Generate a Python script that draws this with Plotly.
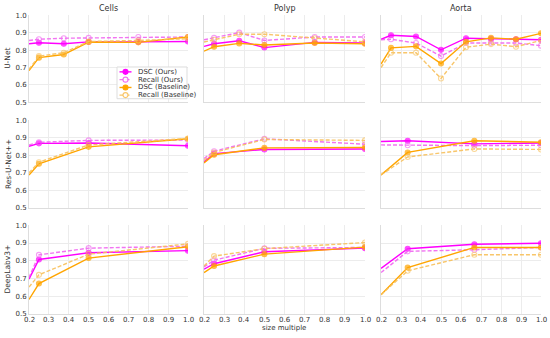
import plotly.graph_objects as go
from plotly.subplots import make_subplots

datasets = ["Cells", "Polyp", "Aorta"]
models = ["U-Net", "Res-U-Net++", "DeepLabv3+"]
series_names = ["DSC (Ours)", "Recall (Ours)", "DSC (Baseline)", "Recall (Baseline)"]
x_tick_values = [0.2, 0.3, 0.4, 0.5, 0.6, 0.7, 0.8, 0.9, 1.0]

# x values (size multiple) per panel
x_unet_cells = [0.2, 0.25, 0.375, 0.5, 0.75, 1.0]
x_unet_polyp = [0.2, 0.25, 0.375, 0.5, 0.75, 1.0]
x_unet_aorta = [0.2, 0.25, 0.375, 0.5, 0.625, 0.75, 0.875, 1.0]
x_res_cells = [0.2, 0.25, 0.5, 1.0]
x_res_polyp = [0.2, 0.25, 0.5, 1.0]
x_res_aorta = [0.2, 1/3, 2/3, 1.0]
x_dl_cells = [0.2, 0.25, 0.5, 1.0]
x_dl_polyp = [0.2, 0.25, 0.5, 1.0]
x_dl_aorta = [0.2, 1/3, 2/3, 1.0]

# U-Net
unet_cells_dsc_ours = [0.837, 0.843, 0.837, 0.848, 0.848, 0.850]
unet_cells_rec_ours = [0.856, 0.863, 0.869, 0.871, 0.876, 0.876]
unet_cells_dsc_base = [0.682, 0.757, 0.775, 0.847, 0.845, 0.876]
unet_cells_rec_base = [0.690, 0.766, 0.785, 0.850, 0.856, 0.866]

unet_polyp_dsc_ours = [0.822, 0.837, 0.854, 0.815, 0.845, 0.841]
unet_polyp_rec_ours = [0.860, 0.871, 0.901, 0.856, 0.876, 0.876]
unet_polyp_dsc_base = [0.794, 0.820, 0.839, 0.830, 0.841, 0.837]
unet_polyp_rec_base = [0.847, 0.860, 0.892, 0.892, 0.869, 0.848]

unet_aorta_dsc_ours = [0.863, 0.886, 0.879, 0.802, 0.869, 0.865, 0.863, 0.860]
unet_aorta_rec_ours = [0.860, 0.863, 0.841, 0.766, 0.841, 0.843, 0.841, 0.826]
unet_aorta_dsc_base = [0.720, 0.813, 0.822, 0.723, 0.848, 0.871, 0.863, 0.897]
unet_aorta_rec_base = [0.700, 0.785, 0.785, 0.637, 0.817, 0.835, 0.820, 0.856]

# Res-U-Net++
res_cells_dsc_ours = [0.852, 0.869, 0.871, 0.855]
res_cells_rec_ours = [0.860, 0.875, 0.886, 0.888]
res_cells_dsc_base = [0.688, 0.752, 0.849, 0.895]
res_cells_rec_base = [0.700, 0.761, 0.860, 0.897]

res_polyp_dsc_ours = [0.763, 0.810, 0.834, 0.837]
res_polyp_rec_ours = [0.782, 0.824, 0.895, 0.864]
res_polyp_dsc_base = [0.757, 0.804, 0.843, 0.845]
res_polyp_rec_base = [0.772, 0.817, 0.891, 0.886]

res_aorta_dsc_ours = [0.880, 0.884, 0.866, 0.871]
res_aorta_rec_ours = [0.860, 0.858, 0.856, 0.858]
res_aorta_dsc_base = [0.688, 0.817, 0.884, 0.875]
res_aorta_rec_base = [0.688, 0.791, 0.837, 0.834]

# DeepLabv3+
dl_cells_dsc_ours = [0.696, 0.807, 0.845, 0.857]
dl_cells_rec_ours = [0.705, 0.833, 0.871, 0.882]
dl_cells_dsc_base = [0.581, 0.671, 0.815, 0.879]
dl_cells_rec_base = [0.651, 0.720, 0.837, 0.895]

dl_polyp_dsc_ours = [0.752, 0.783, 0.851, 0.871]
dl_polyp_rec_ours = [0.765, 0.803, 0.870, 0.875]
dl_polyp_dsc_base = [0.733, 0.770, 0.837, 0.877]
dl_polyp_rec_base = [0.770, 0.826, 0.868, 0.903]

dl_aorta_dsc_ours = [0.757, 0.868, 0.893, 0.899]
dl_aorta_rec_ours = [0.733, 0.853, 0.862, 0.875]
dl_aorta_dsc_base = [0.608, 0.761, 0.875, 0.875]
dl_aorta_rec_base = [0.608, 0.743, 0.834, 0.834]

panels = [
    [(x_unet_cells, [unet_cells_dsc_ours, unet_cells_rec_ours, unet_cells_dsc_base, unet_cells_rec_base]),
     (x_unet_polyp, [unet_polyp_dsc_ours, unet_polyp_rec_ours, unet_polyp_dsc_base, unet_polyp_rec_base]),
     (x_unet_aorta, [unet_aorta_dsc_ours, unet_aorta_rec_ours, unet_aorta_dsc_base, unet_aorta_rec_base])],
    [(x_res_cells, [res_cells_dsc_ours, res_cells_rec_ours, res_cells_dsc_base, res_cells_rec_base]),
     (x_res_polyp, [res_polyp_dsc_ours, res_polyp_rec_ours, res_polyp_dsc_base, res_polyp_rec_base]),
     (x_res_aorta, [res_aorta_dsc_ours, res_aorta_rec_ours, res_aorta_dsc_base, res_aorta_rec_base])],
    [(x_dl_cells, [dl_cells_dsc_ours, dl_cells_rec_ours, dl_cells_dsc_base, dl_cells_rec_base]),
     (x_dl_polyp, [dl_polyp_dsc_ours, dl_polyp_rec_ours, dl_polyp_dsc_base, dl_polyp_rec_base]),
     (x_dl_aorta, [dl_aorta_dsc_ours, dl_aorta_rec_ours, dl_aorta_dsc_base, dl_aorta_rec_base])],
]

styles = [
    dict(color="#ff00ff", dash="solid", symbol="circle", opacity=1.0),
    dict(color="#f05cf0", dash="4px,2px", symbol="circle-open", opacity=0.85),
    dict(color="#ffa500", dash="solid", symbol="circle", opacity=1.0),
    dict(color="#f8c05a", dash="4px,2px", symbol="circle-open", opacity=0.9),
]

W, H = 550, 338
col_px = [(29, 188), (204, 365), (381, 541)]
row_px = [(11.7, 100.7), (119.3, 208.7), (226.7, 317.3)]

fig = make_subplots(rows=3, cols=3)

FONT = "DejaVu Sans"
grid_c = "#ececec"
text_c = "#333333"

annotations = []

for r in range(3):
    for c in range(3):
        xs, ys_list = panels[r][c]
        for s, ys in enumerate(ys_list):
            st = styles[s]
            sizes = [0] + [5] * (len(xs) - 1)
            fig.add_trace(go.Scatter(
                x=xs, y=ys, mode="lines+markers",
                name=series_names[s], showlegend=False,
                line=dict(color=st["color"], width=1.4, dash=st["dash"]),
                marker=dict(color=st["color"], size=sizes, symbol=st["symbol"],
                            line=dict(color=st["color"], width=1.1)),
                opacity=st["opacity"],
            ), row=r + 1, col=c + 1)
        axn = r * 3 + c + 1
        xkey = "xaxis" if axn == 1 else f"xaxis{axn}"
        ykey = "yaxis" if axn == 1 else f"yaxis{axn}"
        x0, x1 = col_px[c]
        y0, y1 = row_px[r]
        fig.layout[xkey].update(
            domain=[x0 / W, x1 / W], range=[0.2, 1.0], tickvals=x_tick_values,
            showgrid=True, gridcolor=grid_c, gridwidth=1, zeroline=False,
            showline=True, linecolor="#dddddd", linewidth=1,
            ticks="", showticklabels=False,
        )
        fig.layout[ykey].update(
            domain=[1 - y1 / H, 1 - y0 / H], range=[0.5, 1.0], dtick=0.1, tick0=0.5,
            showgrid=True, gridcolor=grid_c, gridwidth=1, zeroline=False,
            showline=True, linecolor="#dddddd", linewidth=1,
            ticks="", ticklen=0, showticklabels=(c == 0), tickformat=".1f",
            tickfont=dict(family=FONT, size=7, color=text_c),
        )
        if r == 2:
            xref = "x" if axn == 1 else f"x{axn}"
            for tv in x_tick_values:
                annotations.append(dict(text=f"{tv:.1f}", x=tv, y=1 - 324 / H, xref=xref, yref="paper",
                                        showarrow=False, font=dict(family=FONT, size=7, color=text_c),
                                        xanchor="center", yanchor="middle"))

for c, name in enumerate(datasets):
    x0, x1 = col_px[c]
    annotations.append(dict(text=name, x=(x0 + x1) / 2 / W, y=1 - 5 / H, xref="paper", yref="paper",
                            showarrow=False, font=dict(family=FONT, size=8, color=text_c),
                            xanchor="center", yanchor="middle"))
for r, name in enumerate(models):
    y0, y1 = row_px[r]
    annotations.append(dict(text=name, x=8 / W, y=1 - (y0 + y1) / 2 / H, xref="paper", yref="paper",
                            showarrow=False, textangle=-90, font=dict(family=FONT, size=7.5, color=text_c),
                            xanchor="center", yanchor="middle"))
annotations.append(dict(text="size multiple", x=(col_px[1][0] + col_px[1][1]) / 2 / W, y=1 - 332 / H,
                        xref="paper", yref="paper", showarrow=False,
                        font=dict(family=FONT, size=7, color=text_c), xanchor="center", yanchor="middle"))

# Custom compact legend (box, line samples, marker samples, labels)
shapes = []
lg_x0, lg_x1, lg_y0, lg_y1 = 117, 187, 64.5, 97
shapes.append(dict(type="rect", xref="paper", yref="paper",
                   x0=lg_x0 / W, x1=lg_x1 / W, y0=1 - lg_y1 / H, y1=1 - lg_y0 / H,
                   line=dict(color="#dddddd", width=1), fillcolor="rgba(255,255,255,0.92)", layer="above"))
entry_y = [69.5, 77.5, 85.5, 93.3]
for s, name in enumerate(series_names):
    st = styles[s]
    yy = 1 - entry_y[s] / H
    shapes.append(dict(type="line", xref="paper", yref="paper", x0=119.5 / W, x1=131.5 / W, y0=yy, y1=yy,
                       line=dict(color=st["color"], width=1.4, dash=st["dash"]), opacity=st["opacity"],
                       layer="above"))
    filled = st["symbol"] == "circle"
    shapes.append(dict(type="circle", xref="paper", yref="paper", xsizemode="pixel", ysizemode="pixel",
                       xanchor=125.5 / W, yanchor=yy, x0=-2.5, x1=2.5, y0=-2.5, y1=2.5,
                       line=dict(color=st["color"], width=1.1),
                       fillcolor=st["color"] if filled else "white", opacity=st["opacity"], layer="above"))
    annotations.append(dict(text=name, x=136 / W, y=yy, xref="paper", yref="paper", showarrow=False,
                            font=dict(family=FONT, size=7, color=text_c), xanchor="left", yanchor="middle"))

fig.update_layout(
    width=W, height=H, margin=dict(l=0, r=0, t=0, b=0),
    paper_bgcolor="white", plot_bgcolor="white",
    annotations=annotations, shapes=shapes,
    showlegend=False,
)

fig.write_html("out.html", config={"displayModeBar": False},
               post_script="document.body.style.margin='0';document.body.style.padding='0';"
                           "document.body.style.overflow='hidden';")
